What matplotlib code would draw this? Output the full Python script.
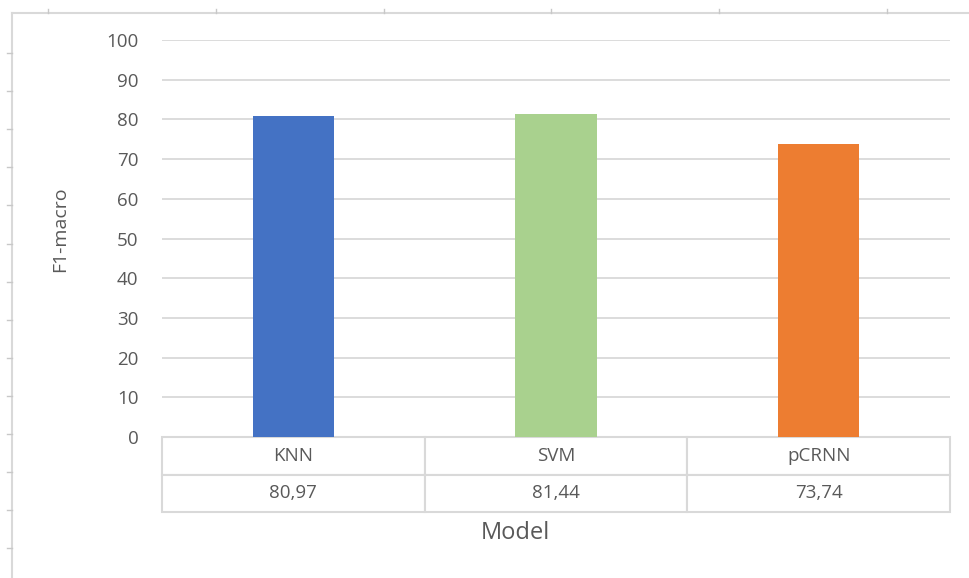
import matplotlib
matplotlib.use("Agg")
import matplotlib.pyplot as plt
from matplotlib.lines import Line2D

# Data
models = ["KNN", "SVM", "pCRNN"]
f1_macro = [80.97, 81.44, 73.74]
bar_colors = ["#4472C4", "#A9D18E", "#ED7D31"]
y_ticks = [0, 10, 20, 30, 40, 50, 60, 70, 80, 90, 100]

TEXT = "#595959"
GRID = "#d9d9d9"
FONT = ["Open Sans", "DejaVu Sans"]

W, H = 970, 578
fig = plt.figure(figsize=(W / 100, H / 100), dpi=100)
fig.patch.set_facecolor("white")
plt.rcParams["font.family"] = FONT


def px(x, y):
    """Pixel position (top-left origin) to figure fraction."""
    return x / W, 1 - y / H


# Plot area
left, right, top, bottom = 162, 950, 40, 437
ax = fig.add_axes([left / W, 1 - bottom / H, (right - left) / W, (bottom - top) / H])

x = list(range(len(models)))
ax.bar(x, f1_macro, width=0.31, color=bar_colors, zorder=3)
ax.set_xlim(-0.5, len(models) - 0.5)
ax.set_ylim(0, 100)
ax.set_yticks(y_ticks)
ax.set_yticklabels([str(t) for t in y_ticks], fontsize=13.5, color=TEXT)
ax.tick_params(axis="y", length=0, pad=17)
ax.set_xticks([])
ax.yaxis.grid(True, color=GRID, linewidth=1.3, zorder=0)
for s in ax.spines.values():
    s.set_visible(False)

# Data table under the bars
values_txt = [f"{v:.2f}".replace(".", ",") for v in f1_macro]
tbl = ax.table(cellText=[models, values_txt], cellLoc="center",
               bbox=[0, -0.189, 1, 0.189])
tbl.auto_set_font_size(False)
for (r, c), cell in tbl.get_celld().items():
    cell.set_edgecolor(GRID)
    cell.set_linewidth(1.5)
    cell.get_text().set_color(TEXT)
    cell.get_text().set_fontsize(13.5)
    cell.get_text().set_fontfamily(FONT)

# Axis titles
fig.text(*px(60, 229), "F1-macro", rotation=90, ha="center", va="center",
         fontsize=14, color=TEXT)
fig.text(*px(515, 533), "Model", ha="center", va="center",
         fontsize=17, color=TEXT)

# Outer sheet border with small tick marks
frame_kw = dict(color=GRID, linewidth=1.5, transform=fig.transFigure)
fig.add_artist(Line2D(*zip(px(12, 13), px(W, 13)), **frame_kw))
fig.add_artist(Line2D(*zip(px(12, 13), px(12, H)), **frame_kw))
tick_kw = dict(color="#c8c8c8", linewidth=1.0, transform=fig.transFigure)
for k in range(14):
    yy = 53 + 38.1 * k
    if yy < H:
        fig.add_artist(Line2D(*zip(px(7, yy), px(12, yy)), **tick_kw))
for k in range(6):
    xx = 48 + 167.8 * k
    fig.add_artist(Line2D(*zip(px(xx, 9), px(xx, 13)), **tick_kw))

fig.savefig("out.png", dpi=100, facecolor="white")
